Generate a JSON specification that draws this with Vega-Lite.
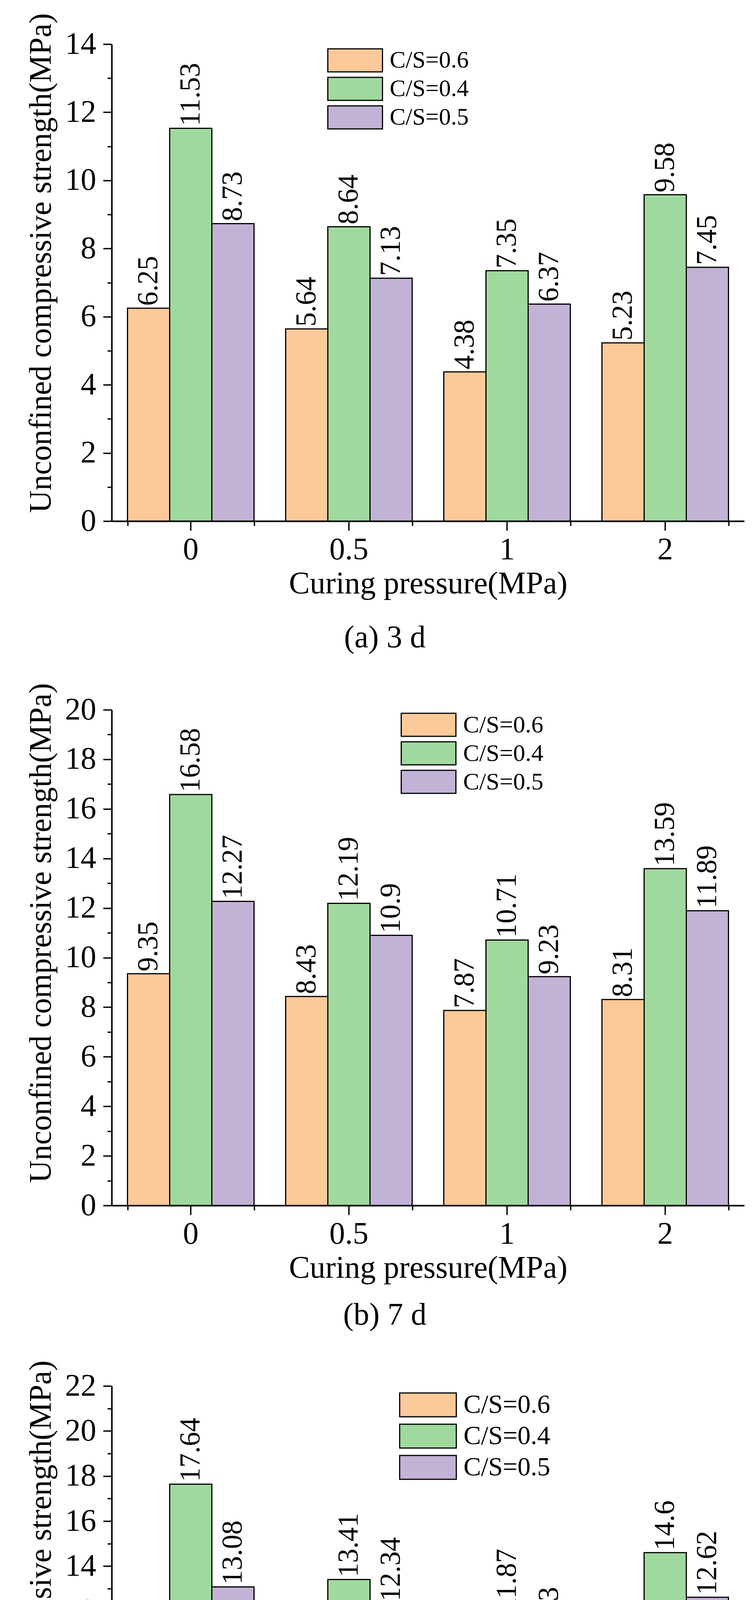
{
  "$schema": "https://vega.github.io/schema/vega-lite/v6.json",
  "background": "white",
  "padding": {"left": 64, "top": 33, "right": 10, "bottom": 20},
  "datasets": {
    "d3": [
      {"p": "0", "cs": "C/S=0.6", "v": 6.25},
      {"p": "0", "cs": "C/S=0.4", "v": 11.53},
      {"p": "0", "cs": "C/S=0.5", "v": 8.73},
      {"p": "0.5", "cs": "C/S=0.6", "v": 5.64},
      {"p": "0.5", "cs": "C/S=0.4", "v": 8.64},
      {"p": "0.5", "cs": "C/S=0.5", "v": 7.13},
      {"p": "1", "cs": "C/S=0.6", "v": 4.38},
      {"p": "1", "cs": "C/S=0.4", "v": 7.35},
      {"p": "1", "cs": "C/S=0.5", "v": 6.37},
      {"p": "2", "cs": "C/S=0.6", "v": 5.23},
      {"p": "2", "cs": "C/S=0.4", "v": 9.58},
      {"p": "2", "cs": "C/S=0.5", "v": 7.45}
    ],
    "d7": [
      {"p": "0", "cs": "C/S=0.6", "v": 9.35},
      {"p": "0", "cs": "C/S=0.4", "v": 16.58},
      {"p": "0", "cs": "C/S=0.5", "v": 12.27},
      {"p": "0.5", "cs": "C/S=0.6", "v": 8.43},
      {"p": "0.5", "cs": "C/S=0.4", "v": 12.19},
      {"p": "0.5", "cs": "C/S=0.5", "v": 10.9},
      {"p": "1", "cs": "C/S=0.6", "v": 7.87},
      {"p": "1", "cs": "C/S=0.4", "v": 10.71},
      {"p": "1", "cs": "C/S=0.5", "v": 9.23},
      {"p": "2", "cs": "C/S=0.6", "v": 8.31},
      {"p": "2", "cs": "C/S=0.4", "v": 13.59},
      {"p": "2", "cs": "C/S=0.5", "v": 11.89}
    ],
    "d14": [
      {"p": "0", "cs": "C/S=0.6", "v": 9.91},
      {"p": "0", "cs": "C/S=0.4", "v": 17.64},
      {"p": "0", "cs": "C/S=0.5", "v": 13.08},
      {"p": "0.5", "cs": "C/S=0.6", "v": 9.13},
      {"p": "0.5", "cs": "C/S=0.4", "v": 13.41},
      {"p": "0.5", "cs": "C/S=0.5", "v": 12.34},
      {"p": "1", "cs": "C/S=0.6", "v": 8.41},
      {"p": "1", "cs": "C/S=0.4", "v": 11.87},
      {"p": "1", "cs": "C/S=0.5", "v": 10.13},
      {"p": "2", "cs": "C/S=0.6", "v": 8.96},
      {"p": "2", "cs": "C/S=0.4", "v": 14.6},
      {"p": "2", "cs": "C/S=0.5", "v": 12.62}
    ]
  },
  "config": {
    "font": "Liberation Serif",
    "view": {"stroke": null},
    "concat": {"spacing": 75},
    "axis": {
      "grid": false,
      "domainColor": "black",
      "domainWidth": 4,
      "tickColor": "black",
      "tickWidth": 3.5,
      "labelColor": "black",
      "titleColor": "black",
      "labelFont": "Liberation Serif",
      "titleFont": "Liberation Serif",
      "titleFontWeight": "normal",
      "labelFontSize": 80,
      "titleFontSize": 80
    },
    "legend": {
      "orient": "none",
      "direction": "vertical",
      "symbolType": "M-1,-0.42H1V0.42H-1Z",
      "symbolStrokeColor": "black",
      "symbolStrokeWidth": 3,
      "symbolOpacity": 1,
      "labelFont": "Liberation Serif",
      "labelColor": "black",
      "labelLimit": 0,
      "labelOffset": 17,
      "padding": 0
    },
    "title": {
      "font": "Liberation Serif",
      "fontSize": 80,
      "fontWeight": "normal",
      "color": "black",
      "orient": "bottom",
      "anchor": "middle",
      "frame": "bounds",
      "offset": 60
    }
  },
  "resolve": {"scale": {"color": "independent"}, "legend": {"color": "independent"}},
  "vconcat": [
    {
      "width": 1620,
      "height": 1221,
      "title": {"text": "(a) 3 d", "offset": 60},
      "data": {"name": "d3"},
      "layer": [
        {
          "mark": {"type": "bar", "stroke": "black", "strokeWidth": 3},
          "encoding": {
            "x": {
              "field": "p", "type": "nominal", "sort": ["0", "0.5", "1", "2"],
              "scale": {"paddingInner": 0.2, "paddingOuter": 0.1},
              "axis": {"orient": "bottom", "title": "Curing pressure(MPa)", "labelAngle": 0, "tickSize": 24, "labelPadding": 10, "titlePadding": 8}
            },
            "xOffset": {"field": "cs", "sort": ["C/S=0.6", "C/S=0.4", "C/S=0.5"], "scale": {"paddingInner": 0}},
            "y": {
              "field": "v", "type": "quantitative",
              "scale": {"domain": [0, 14], "nice": false},
              "axis": {
                "title": "Unconfined compressive strength(MPa)",
                "titleY": 560,
                "values": [0, 1, 2, 3, 4, 5, 6, 7, 8, 9, 10, 11, 12, 13, 14],
                "format": "d",
                "labelExpr": "datum.value % 2 === 0 ? datum.label : ''",
                "tickSize": {"condition": {"test": "datum.value % 2 === 1", "value": 11}, "value": 22},
                "labelPadding": 18,
                "titlePadding": 20
              }
            },
            "color": {
              "field": "cs", "type": "nominal",
              "scale": {"domain": ["C/S=0.6", "C/S=0.4", "C/S=0.5"], "range": ["#FCC999", "#A0D99E", "#C2B2D6"]},
              "legend": {"title": null, "legendX": 552, "legendY": 10, "symbolSize": 19600, "clipHeight": 63, "rowPadding": 10, "labelFontSize": 61}
            }
          }
        },
        {
          "mark": {"type": "text", "angle": 270, "align": "left", "baseline": "middle", "dx": 6, "fontSize": 73, "font": "Liberation Serif", "color": "black"},
          "encoding": {
            "x": {
              "field": "p", "type": "nominal", "sort": ["0", "0.5", "1", "2"],
              "scale": {"paddingInner": 0.2, "paddingOuter": 0.1},
              "axis": {"orient": "bottom", "tickBand": "extent", "tickSize": 12, "labels": false, "domain": false, "title": null}
            },
            "xOffset": {"field": "cs", "sort": ["C/S=0.6", "C/S=0.4", "C/S=0.5"]},
            "y": {"field": "v", "type": "quantitative"},
            "text": {"field": "v", "type": "quantitative"}
          }
        }
      ],
      "resolve": {"axis": {"x": "independent"}}
    },
    {
      "width": 1620,
      "height": 1269,
      "title": {"text": "(b) 7 d", "offset": 42},
      "data": {"name": "d7"},
      "layer": [
        {
          "mark": {"type": "bar", "stroke": "black", "strokeWidth": 3},
          "encoding": {
            "x": {
              "field": "p", "type": "nominal", "sort": ["0", "0.5", "1", "2"],
              "scale": {"paddingInner": 0.2, "paddingOuter": 0.1},
              "axis": {"orient": "bottom", "title": "Curing pressure(MPa)", "labelAngle": 0, "tickSize": 24, "labelPadding": 10, "titlePadding": 8}
            },
            "xOffset": {"field": "cs", "sort": ["C/S=0.6", "C/S=0.4", "C/S=0.5"], "scale": {"paddingInner": 0}},
            "y": {
              "field": "v", "type": "quantitative",
              "scale": {"domain": [0, 20], "nice": false},
              "axis": {
                "title": "Unconfined compressive strength(MPa)",
                "titleY": 571,
                "values": [0, 1, 2, 3, 4, 5, 6, 7, 8, 9, 10, 11, 12, 13, 14, 15, 16, 17, 18, 19, 20],
                "format": "d",
                "labelExpr": "datum.value % 2 === 0 ? datum.label : ''",
                "tickSize": {"condition": {"test": "datum.value % 2 === 1", "value": 11}, "value": 22},
                "labelPadding": 18,
                "titlePadding": 20
              }
            },
            "color": {
              "field": "cs", "type": "nominal",
              "scale": {"domain": ["C/S=0.6", "C/S=0.4", "C/S=0.5"], "range": ["#FCC999", "#A0D99E", "#C2B2D6"]},
              "legend": {"title": null, "legendX": 740, "legendY": 7, "symbolSize": 19600, "clipHeight": 63, "rowPadding": 10, "labelFontSize": 62}
            }
          }
        },
        {
          "mark": {"type": "text", "angle": 270, "align": "left", "baseline": "middle", "dx": 6, "fontSize": 73, "font": "Liberation Serif", "color": "black"},
          "encoding": {
            "x": {
              "field": "p", "type": "nominal", "sort": ["0", "0.5", "1", "2"],
              "scale": {"paddingInner": 0.2, "paddingOuter": 0.1},
              "axis": {"orient": "bottom", "tickBand": "extent", "tickSize": 12, "labels": false, "domain": false, "title": null}
            },
            "xOffset": {"field": "cs", "sort": ["C/S=0.6", "C/S=0.4", "C/S=0.5"]},
            "y": {"field": "v", "type": "quantitative"},
            "text": {"field": "v", "type": "quantitative"}
          }
        }
      ],
      "resolve": {"axis": {"x": "independent"}}
    },
    {
      "width": 1620,
      "height": 1269,
      "title": {"text": "(c) 14 d", "offset": 60},
      "data": {"name": "d14"},
      "layer": [
        {
          "mark": {"type": "bar", "stroke": "black", "strokeWidth": 3},
          "encoding": {
            "x": {
              "field": "p", "type": "nominal", "sort": ["0", "0.5", "1", "2"],
              "scale": {"paddingInner": 0.2, "paddingOuter": 0.1},
              "axis": {"orient": "bottom", "title": "Curing pressure(MPa)", "labelAngle": 0, "tickSize": 24, "labelPadding": 10, "titlePadding": 8}
            },
            "xOffset": {"field": "cs", "sort": ["C/S=0.6", "C/S=0.4", "C/S=0.5"], "scale": {"paddingInner": 0}},
            "y": {
              "field": "v", "type": "quantitative",
              "scale": {"domain": [0, 22], "nice": false},
              "axis": {
                "title": "Unconfined compressive strength(MPa)",
                "titleY": 574,
                "values": [0, 1, 2, 3, 4, 5, 6, 7, 8, 9, 10, 11, 12, 13, 14, 15, 16, 17, 18, 19, 20, 21, 22],
                "format": "d",
                "labelExpr": "datum.value % 2 === 0 ? datum.label : ''",
                "tickSize": {"condition": {"test": "datum.value % 2 === 1", "value": 11}, "value": 22},
                "labelPadding": 18,
                "titlePadding": 20
              }
            },
            "color": {
              "field": "cs", "type": "nominal",
              "scale": {"domain": ["C/S=0.6", "C/S=0.4", "C/S=0.5"], "range": ["#FCC999", "#A0D99E", "#C2B2D6"]},
              "legend": {"title": null, "legendX": 736, "legendY": 16, "symbolSize": 21025, "clipHeight": 65, "rowPadding": 12, "labelFontSize": 67}
            }
          }
        },
        {
          "mark": {"type": "text", "angle": 270, "align": "left", "baseline": "middle", "dx": 6, "fontSize": 73, "font": "Liberation Serif", "color": "black"},
          "encoding": {
            "x": {
              "field": "p", "type": "nominal", "sort": ["0", "0.5", "1", "2"],
              "scale": {"paddingInner": 0.2, "paddingOuter": 0.1},
              "axis": {"orient": "bottom", "tickBand": "extent", "tickSize": 12, "labels": false, "domain": false, "title": null}
            },
            "xOffset": {"field": "cs", "sort": ["C/S=0.6", "C/S=0.4", "C/S=0.5"]},
            "y": {"field": "v", "type": "quantitative"},
            "text": {"field": "v", "type": "quantitative"}
          }
        }
      ],
      "resolve": {"axis": {"x": "independent"}}
    }
  ]
}
